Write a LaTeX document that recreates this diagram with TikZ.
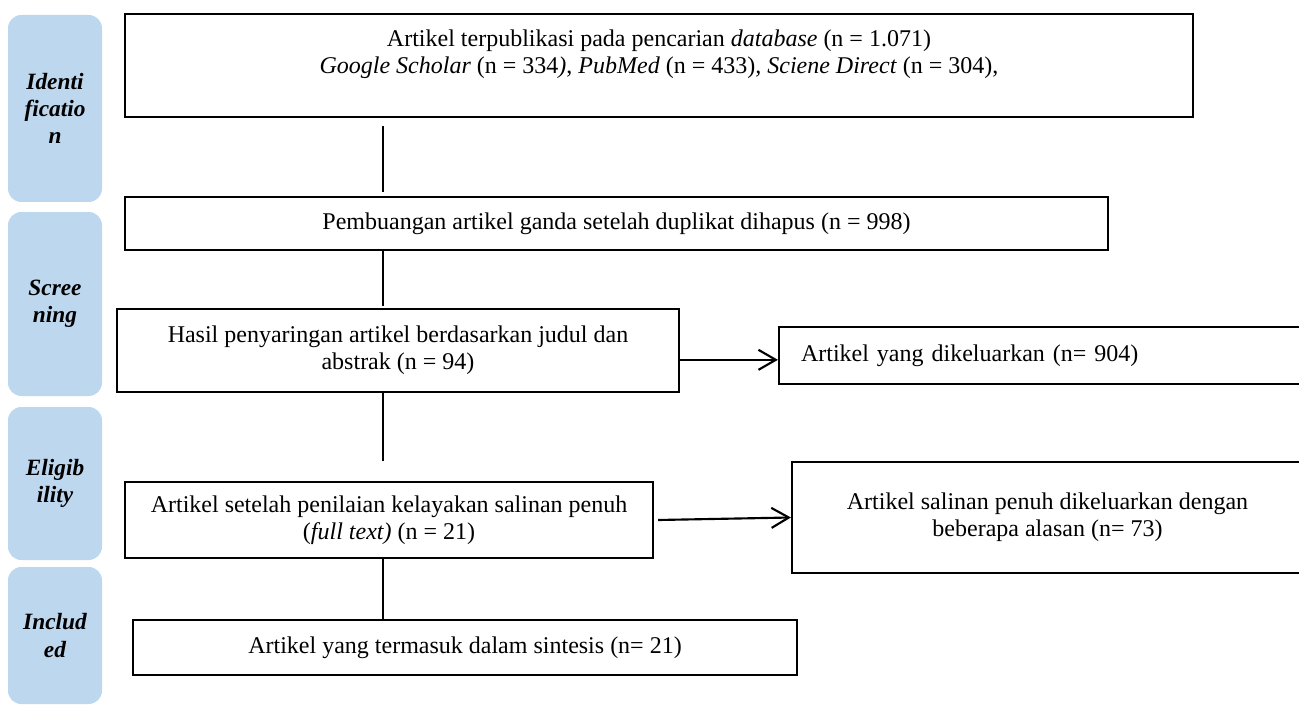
\documentclass[tikz,border=0pt]{standalone}
\usepackage{fontspec}
\setmainfont{Liberation Serif}
\usetikzlibrary{arrows.meta}
\definecolor{stagefill}{RGB}{189,215,238}
\tikzset{
  stagebox/.style={fill=stagefill, draw=none, rounded corners=10pt, inner sep=0pt, align=center,
    minimum width=70.5pt, font=\fontsize{17.5}{20.5}\selectfont\bfseries\itshape},
  flowbox/.style={draw=black, line width=1.6pt, inner sep=0pt, align=center,
    font=\fontsize{18}{20.25}\selectfont},
  conn/.style={line width=1.6pt},
  arr/.style={line width=1.6pt, -{Straight Barb[length=13pt,width=15pt,line width=1.6pt]}}
}
\begin{document}
\begin{tikzpicture}[x=0.75pt,y=-0.75pt]
\useasboundingbox (0,0) rectangle (1299,706);
% stage boxes
\node[stagebox, minimum height=140.25pt] (s1) at (55,108.5) {Identi\\ficatio\\n};
\node[stagebox, minimum height=138pt] (s2) at (55,304) {Scree\\ning};
\node[stagebox, minimum height=114.75pt] (s3) at (55,483.5) {Eligib\\ility};
\node[stagebox, minimum height=102.75pt] (s4) at (55,635.5) {Includ\\ed};
% flow boxes
\node[flowbox, minimum width=801pt, minimum height=77.25pt] (A) at (659,65.5) {Artikel terpublikasi pada pencarian \textit{database} (n = 1.071)\\
\textit{Google Scholar} (n = 334\textit{)}, \textit{PubMed} (n = 433)\textit{, Sciene Direct} (n = 304),\\\mbox{}};
\node[flowbox, minimum width=737.25pt, minimum height=39.75pt] (B) at (616.5,223.5) {Pembuangan artikel ganda setelah duplikat dihapus (n = 998)};
\node[flowbox, minimum width=421.5pt, minimum height=62.25pt] (C) at (398,350.5) {Hasil penyaringan artikel berdasarkan judul dan\\abstrak (n = 94)};
\node[flowbox, minimum width=393pt, minimum height=42.75pt, inner xsep=16.5pt, text width=360pt, align=left] (X) at (1041,355.5) {Artikel yang dikeluarkan (n= 904)};
\node[flowbox, minimum width=396pt, minimum height=57pt] (D) at (389,520) {Artikel setelah penilaian kelayakan salinan penuh\\(\textit{full text)} (n = 21)};
\node[flowbox, minimum width=383.25pt, minimum height=83.25pt] (Y) at (1047.5,517.5) {Artikel salinan penuh dikeluarkan dengan\\beberapa alasan (n= 73)};
\node[flowbox, minimum width=498pt, minimum height=41.25pt] (E) at (465,647.5) {Artikel yang termasuk dalam sintesis (n= 21)};
% connectors
\coordinate (cx) at (383,0);
\draw[conn, shorten <=6pt, shorten >=3pt] (A.south -| cx) -- (B.north -| cx);
\draw[conn, shorten >=1.5pt] (B.south -| cx) -- (C.north -| cx);
\draw[conn, shorten >=15pt] (C.south -| cx) -- (D.north -| cx);
\draw[conn] (D.south -| cx) -- (E.north -| cx);
\draw[arr] ([yshift=-7pt]C.east) -- ([yshift=-7pt]C.east -| X.west);
\draw[arr] ([xshift=3pt]D.east) -- (Y.west);
\end{tikzpicture}
\end{document}
